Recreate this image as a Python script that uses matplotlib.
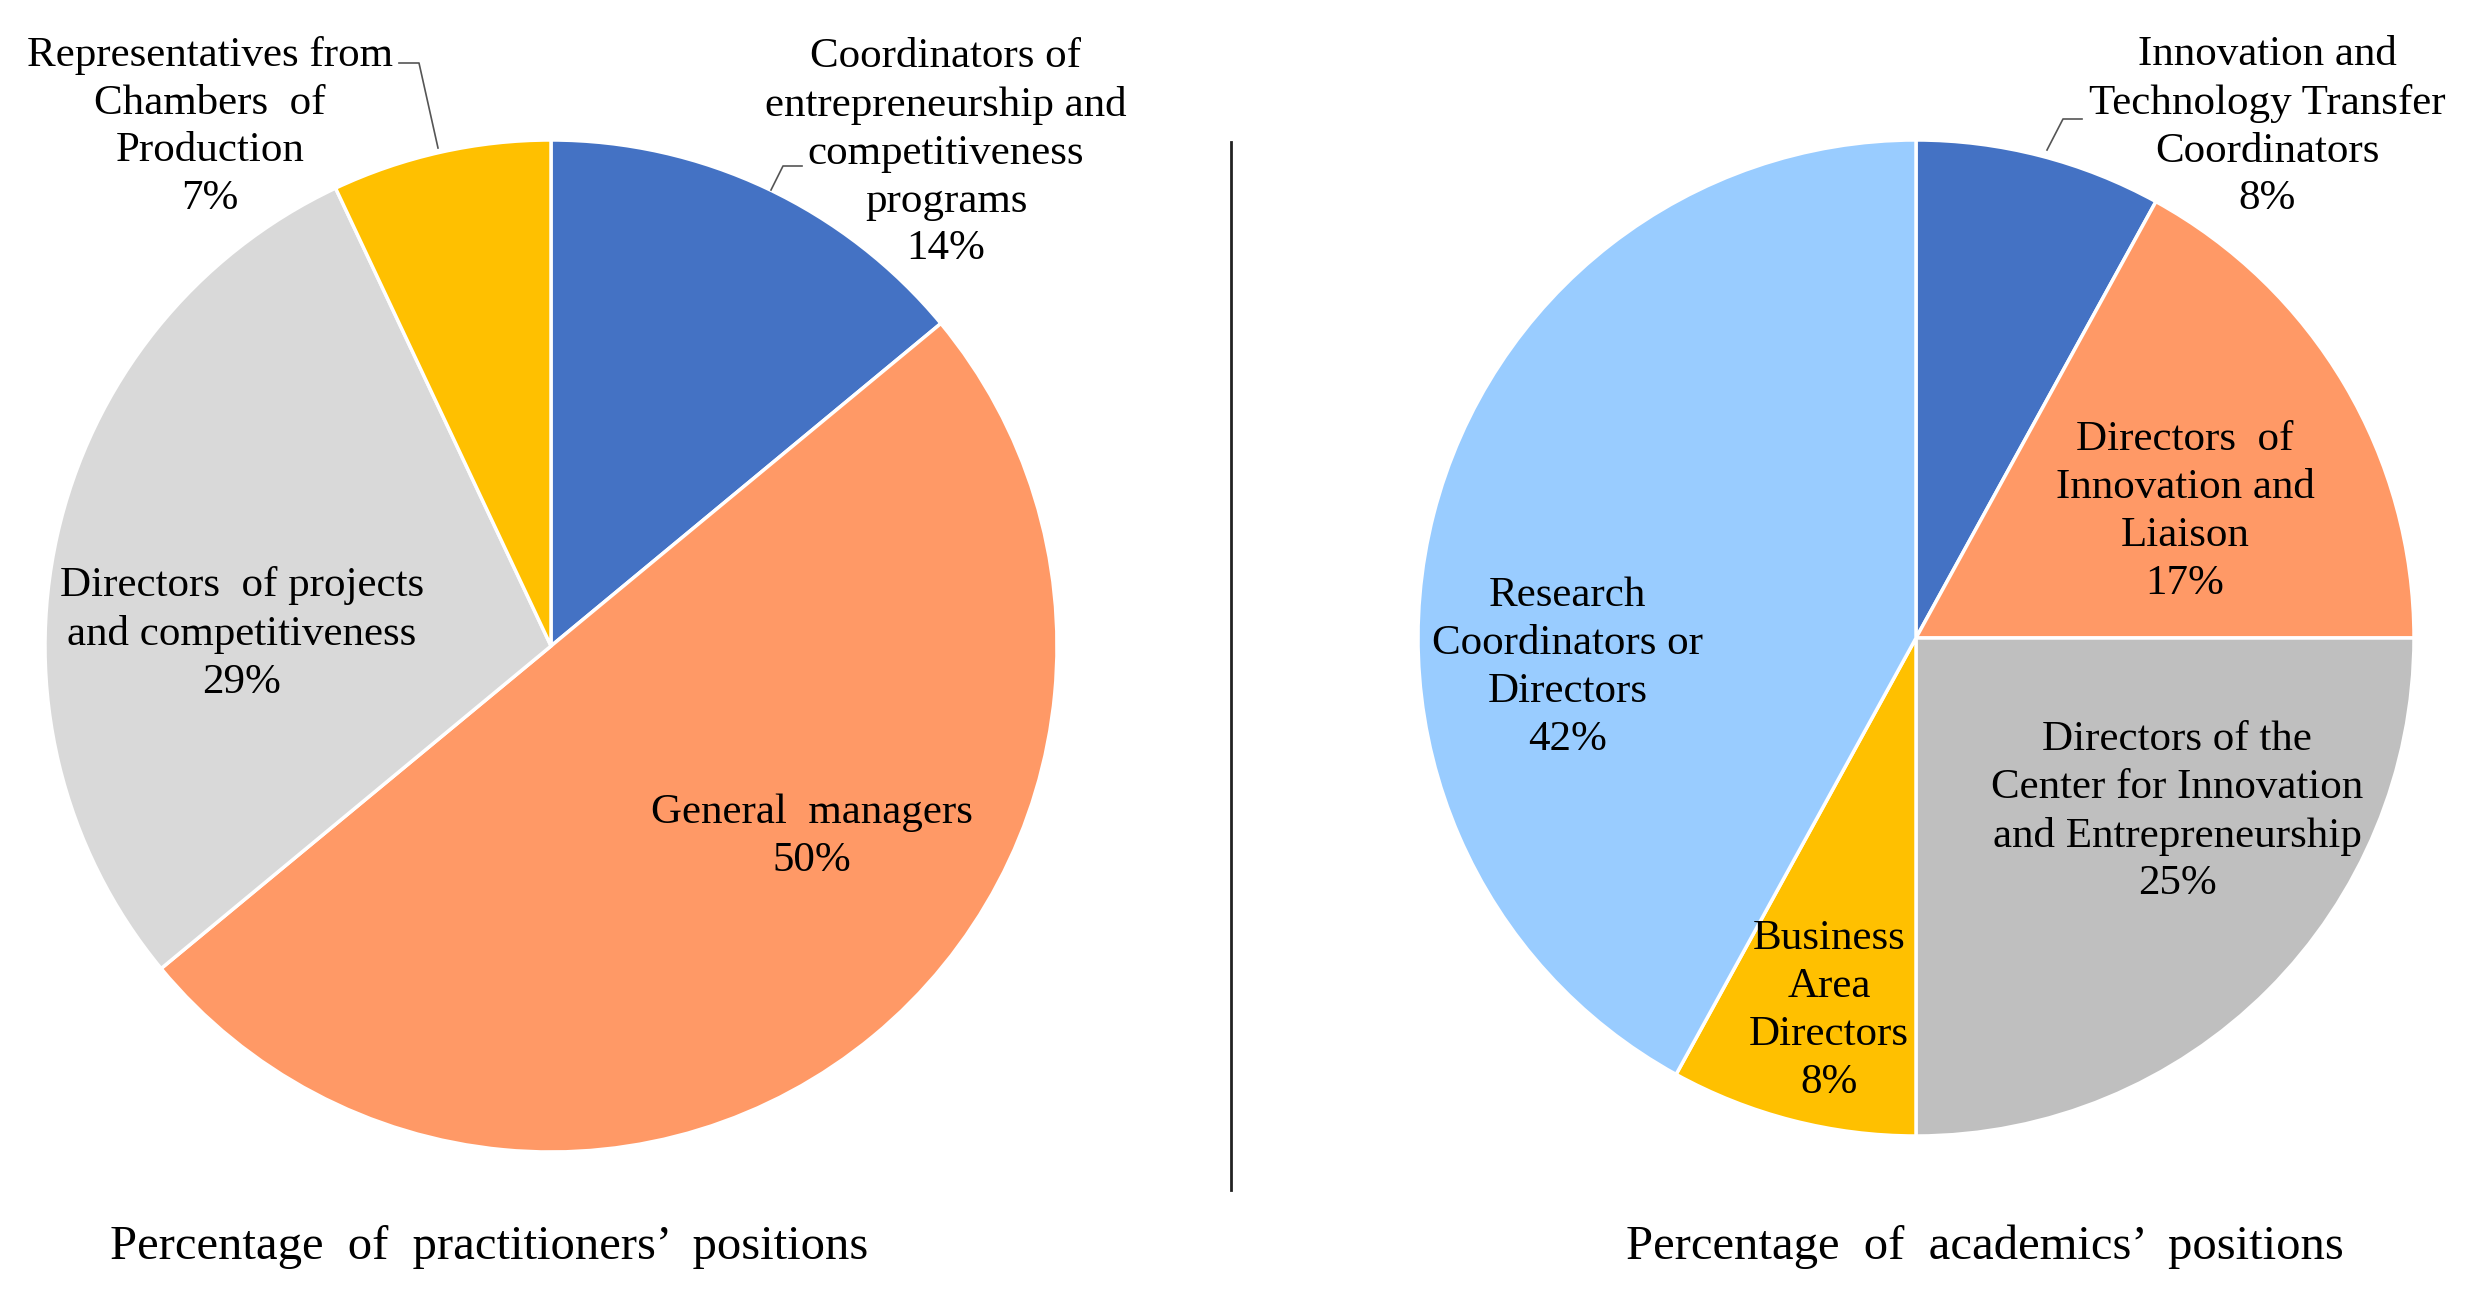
import matplotlib
matplotlib.use('Agg')
import matplotlib.pyplot as plt

# Datos: puestos de los practicantes (pastel izquierdo)
prac_labels = ["Coordinators of\nentrepreneurship and\ncompetitiveness\nprograms",
               "General  managers",
               "Directors  of projects\nand competitiveness",
               "Representatives from\nChambers  of\nProduction"]
prac_values = [14, 50, 29, 7]
prac_colors = ['#4472C4', '#FF9966', '#D9D9D9', '#FFC000']

# Datos: puestos de los académicos (pastel derecho)
acad_labels = ["Innovation and\nTechnology Transfer\nCoordinators",
               "Directors  of\nInnovation and\nLiaison",
               "Directors of the\nCenter for Innovation\nand Entrepreneurship",
               "Business\nArea\nDirectors",
               "Research\nCoordinators or\nDirectors"]
acad_values = [8, 17, 25, 8, 42]
acad_colors = ['#4472C4', '#FF9966', '#BFBFBF', '#FFC000', '#99CCFF']

titles = ["Percentage  of  practitioners’  positions",
          "Percentage  of  academics’  positions"]

# posiciones de las etiquetas (pixeles de la figura, y hacia abajo)
prac_pos = [(946, 153), (812, 837), (242, 634), (210, 127)]
acad_pos = [(2267, 127), (2185, 512), (2177, 812), (1829, 1011), (1568, 668)]

W, H = 2481, 1302
plt.rcParams['font.family'] = ['Liberation Serif', 'DejaVu Serif']
fig = plt.figure(figsize=(W / 100, H / 100), dpi=100)

ax1 = fig.add_axes([45 / W, 150 / H, 1012 / W, 1012 / H])
ax1.pie(prac_values, colors=prac_colors, startangle=90, counterclock=False,
        wedgeprops=dict(edgecolor='white', linewidth=2.5))
ax1.set_xlim(-1, 1)
ax1.set_ylim(-1, 1)
ax1.set_aspect('equal')

ax2 = fig.add_axes([1418 / W, 166 / H, 996 / W, 996 / H])
ax2.pie(acad_values, colors=acad_colors, startangle=90, counterclock=False,
        wedgeprops=dict(edgecolor='white', linewidth=2.5))
ax2.set_xlim(-1, 1)
ax2.set_ylim(-1, 1)
ax2.set_aspect('equal')

# capa para textos y líneas
ov = fig.add_axes([0, 0, 1, 1])
ov.set_xlim(0, W)
ov.set_ylim(H, 0)
ov.axis('off')
ov.patch.set_alpha(0)

fs = 31
for lab, v, (x, y) in zip(prac_labels, prac_values, prac_pos):
    ov.text(x, y, f"{lab}\n{v}%", ha='center', va='center', fontsize=fs,
            linespacing=1.32, color='black')
for lab, v, (x, y) in zip(acad_labels, acad_values, acad_pos):
    ov.text(x, y, f"{lab}\n{v}%", ha='center', va='center', fontsize=fs,
            linespacing=1.32, color='black')

# líneas guía
ov.plot([771, 783, 802], [190, 166, 166], color='#555555', lw=1.2)
ov.plot([438, 419, 399], [148, 63, 63], color='#555555', lw=1.2)
ov.plot([2047, 2063, 2082], [150, 119, 119], color='#555555', lw=1.2)

# separador
ov.plot([1231, 1231], [142, 1190], color='#222222', lw=2)

ov.text(489, 1247, titles[0], ha='center', va='center', fontsize=35, color='black')
ov.text(1985, 1247, titles[1], ha='center', va='center', fontsize=35, color='black')

fig.savefig('out.png', dpi=100, facecolor='white')
